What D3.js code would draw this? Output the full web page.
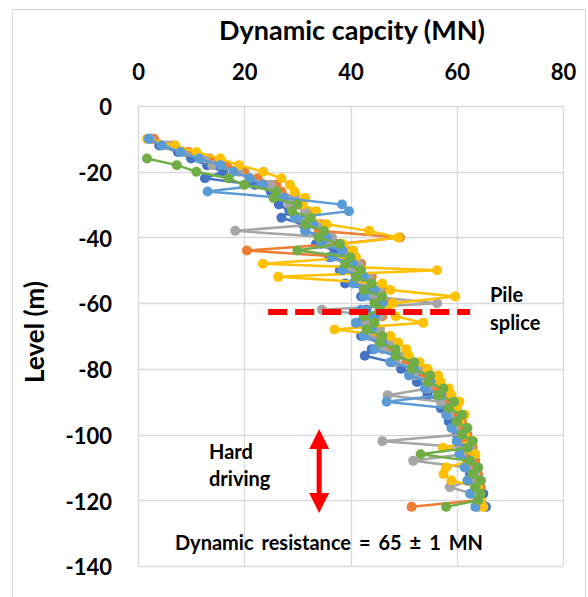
<!DOCTYPE html>
<html>
<head>
<meta charset="utf-8">
<script src="https://cdn.jsdelivr.net/npm/d3@7"></script>
<style>
    body { margin: 0; background: #fff; }
    text { font-family: Lato, "Open Sans", sans-serif; font-weight: bold; fill: #000; }
</style>
</head>
<body>
<div class="chart"></div>
<script>
const width = 588;
const height = 597;

// pile levels (m)
const depths = [-10, -12, -14, -16, -18, -20, -22, -24, -26, -28, -30, -32, -34, -36, -38, -40, -42, -44, -46, -48,
    -50, -52, -54, -56, -58, -60, -62, -64, -66, -68, -70, -72, -74, -76, -78, -80, -82, -84, -86, -88,
    -90, -92, -94, -96, -98, -100, -102, -104, -106, -108, -110, -112, -114, -116, -118, -120, -122];

// dynamic capacity (MN) for each record
const blueCap = [2.5, 4, 7.5, 10, 13, 16, 12.6, 22, 25, 27, 26.5, 28.5, 27, 31, 31.5, 34.5, 33.5, 37, 36, 39.5,
    38, 41.5, 39, 43.5, 42, 45.5, 43, 44.5, 41.5, 43.5, 42, 45.5, 44, 42.7, 48, 49.5, 53, 52.5, 55.5, 54.5,
    57.5, 57, 59.5, 58.5, 60.5, 60, 62, 61, 63, 62, 64, 62.5, 64.5, 63.5, 65, 64.5, 65.5];
const orangeCap = [3, 6.5, 9.5, 13.5, 16.7, 20, 22.5, 26, 27, 29.5, 29, 32, 31.5, 34.5, 34, 49.3, 37.5, 20.5, 39.5, 42,
    41, 44, 43, 46, 45, 47.5, 45.5, 46, 44, 45.5, 45, 48, 47, 50, 50.5, 53.5, 54, 56.5, 56, 58.5,
    58, 60, 59.5, 61, 60.5, 62, 61.5, 63, 62, 63.5, 62.5, 64, 63, 64.5, 63.5, 64, 51.5];
const grayCap = [2.3, 5.5, 8.5, 12.5, 14, 19, 21, 25, 26, 29.5, 28.5, 31.5, 30.5, 34, 18.3, 36.5, 35.5, 39.5, 38, 41.5,
    40, 43.5, 42, 45.5, 44, 56.3, 34.6, 45.5, 42.5, 45.5, 43.5, 47.5, 46, 50, 48.5, 53, 52, 55.5, 54.5, 47,
    57, 59.5, 58.5, 60.5, 59.5, 61, 46, 62.5, 61, 51.8, 62, 63.5, 62.5, 58.7, 63, 64.5, 64];
const yellowCap = [1.7, 7, 11, 15.5, 19, 23.6, 27, 28.6, 29.5, 31.5, 31, 33.5, 32.5, 35.5, 43.5, 49, 38.5, 40.5, 41, 23.5,
    56.3, 26.4, 46, 47.5, 59.7, 48, 47, 48.5, 53.7, 37, 47.5, 49, 50.5, 51, 53, 54.5, 56.5, 57, 58.5, 59,
    60.5, 60, 61.5, 60.5, 62, 61.5, 63, 57.4, 63.5, 62.5, 58, 57.5, 59, 64, 63.5, 64.5, 65];
const lightBlueCap = [2, 4.5, 8, 11.5, 15.5, 18, 21, 23.5, 13.1, 27.5, 38.4, 39.7, 29.5, 33, 31.5, 35.5, 34.5, 38.5, 36.5, 40.5,
    38.5, 42.5, 40.5, 44.5, 42.5, 46, 42, 44.5, 41, 44, 42.5, 46, 44.5, 48.5, 47.5, 52, 51, 55, 54, 57,
    46.8, 58.5, 58, 60, 59, 61, 60, 62, 60.5, 62.5, 61.5, 63, 62, 63.5, 62.5, 64, 63.5];
const greenCap = [null, null, null, 1.7, 7.3, 11, 17, 20, 26, 25.5, 30, 29, 32.5, 31.5, 35, 34, 38, 30, 40, 39,
    42, 41, 44, 42.5, 46, 44.5, 45.5, 42.5, 44.5, 43, 46, 45.5, 48.5, 48.5, 52, 51.5, 55, 54.5, 57.5, 56.5,
    59.5, 58.5, 61, 60, 62, 61, 63, 62, 53.2, 62.5, 64, 63, 64.5, 63.5, 64.5, 64, 58];

const xTicks = [0, 20, 40, 60, 80];
const yTicks = [0, -20, -40, -60, -80, -100, -120, -140];

const series = [
    { name: "Series1", color: "#4472C4", values: blueCap },
    { name: "Series2", color: "#ED7D31", values: orangeCap },
    { name: "Series3", color: "#A5A5A5", values: grayCap },
    { name: "Series4", color: "#FFC000", values: yellowCap },
    { name: "Series5", color: "#5B9BD5", values: lightBlueCap },
    { name: "Series6", color: "#70AD47", values: greenCap },
];

const svg = d3.select(".chart").append("svg").attr("width", width).attr("height", height);

// chart frame
svg.append("rect").attr("x", 12.5).attr("y", 9.5).attr("width", 573).attr("height", 600)
    .attr("fill", "none").attr("stroke", "#d9d9d9");

const x = d3.scaleLinear().domain([0, 80]).range([138, 563]);
const y = d3.scaleLinear().domain([-140, 0]).range([566, 106]);

// grid
const grid = svg.append("g");
grid.selectAll(".vg").data(xTicks).enter().append("line")
    .attr("x1", d => Math.round(x(d)) + 0.5).attr("x2", d => Math.round(x(d)) + 0.5)
    .attr("y1", y(0)).attr("y2", y(-140))
    .attr("stroke", "#d9d9d9").attr("stroke-width", 1.3);
grid.selectAll(".hg").data(yTicks).enter().append("line")
    .attr("y1", d => Math.round(y(d)) + 0.5).attr("y2", d => Math.round(y(d)) + 0.5)
    .attr("x1", x(0)).attr("x2", x(80))
    .attr("stroke", "#d9d9d9").attr("stroke-width", 1.3);

// axes (labels only)
const xAxis = svg.append("g").attr("transform", `translate(0,${y(0)})`)
    .call(d3.axisTop(x).tickValues(xTicks).tickSize(0).tickPadding(26).tickFormat(d => String(d)));
const yAxis = svg.append("g").attr("transform", `translate(${x(0)},0)`)
    .call(d3.axisLeft(y).tickValues(yTicks).tickSize(0).tickPadding(26).tickFormat(d => String(d)));
svg.selectAll(".domain").remove();
xAxis.selectAll("text").style("font-size", "22px").style("font-family", "Lato").style("font-weight", "bold").attr("fill", "#000");
yAxis.selectAll("text").style("font-size", "22px").style("font-family", "Lato").style("font-weight", "bold").attr("fill", "#000")
    .attr("dy", "0.4em");

// titles
svg.append("text").attr("x", 352).attr("y", 40).attr("text-anchor", "middle")
    .style("font-size", "27px").text("Dynamic capcity (MN)");
svg.append("text").attr("transform", "translate(44,332) rotate(-90)").attr("text-anchor", "middle")
    .style("font-size", "26px").text("Level (m)");

// data
const line = d3.line()
    .defined(d => d.v != null)
    .x(d => x(d.v))
    .y(d => y(d.L));

const g = svg.append("g");
series.forEach(s => {
    const pts = depths.map((L, i) => ({ L: L, v: s.values[i] }));
    g.append("path").datum(pts).attr("d", line)
        .attr("fill", "none").attr("stroke", s.color).attr("stroke-width", 2.5);
    g.selectAll(null).data(pts.filter(p => p.v != null)).enter().append("circle")
        .attr("cx", d => x(d.v)).attr("cy", d => y(d.L)).attr("r", 5)
        .attr("fill", s.color);
});

// pile splice
const splice = -62.7;
svg.append("line").attr("x1", x(24.5)).attr("x2", x(62.5)).attr("y1", y(splice)).attr("y2", y(splice))
    .attr("stroke", "#ff0000").attr("stroke-width", 6).attr("stroke-dasharray", "19,8");
svg.append("text").attr("x", 490).attr("y", 302).style("font-size", "20px").text("Pile");
svg.append("text").attr("x", 490).attr("y", 330).style("font-size", "20px").text("splice");

// hard driving arrow
const ax = x(34.1), aTop = y(-98.3), aBot = y(-123.9);
svg.append("rect").attr("x", ax - 2.5).attr("y", aTop + 15).attr("width", 5).attr("height", aBot - aTop - 30).attr("fill", "#ff0000");
svg.append("path").attr("d", `M${ax},${aTop} L${ax + 10},${aTop + 20} L${ax - 10},${aTop + 20} Z`).attr("fill", "#ff0000");
svg.append("path").attr("d", `M${ax},${aBot} L${ax + 10},${aBot - 20} L${ax - 10},${aBot - 20} Z`).attr("fill", "#ff0000");
svg.append("text").attr("x", 209).attr("y", 459).style("font-size", "20px").text("Hard");
svg.append("text").attr("x", 209).attr("y", 486).style("font-size", "20px").text("driving");

const res = svg.append("text").attr("x", 175).attr("y", 550).style("font-size", "20px")
    .text("Dynamic resistance = 65 ± 1 MN");
const natural = res.node().getComputedTextLength();
res.style("word-spacing", Math.max(0, (308 - natural) / 6) + "px");
</script>
</body>
</html>
